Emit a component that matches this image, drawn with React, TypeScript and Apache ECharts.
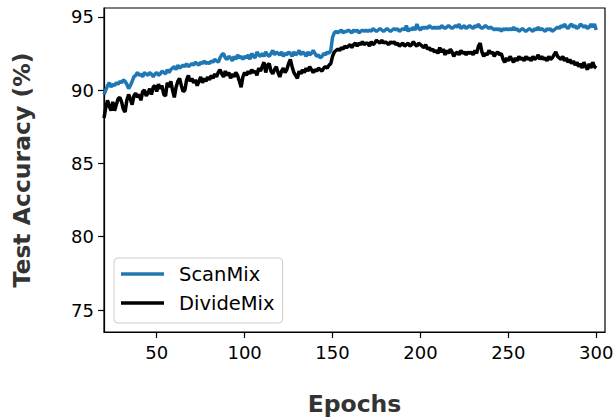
import React, { useEffect, useRef } from "react";
import * as echarts from "echarts";

const START_EPOCH = 20;
const xTicks = [50, 100, 150, 200, 250, 300];
const yTicks = [75, 80, 85, 90, 95];

// ScanMix test accuracy, epochs 20..300
const scanMix = [
  89.7, 90.0, 90.3, 90.5, 90.2, 90.4, 90.3, 90.5, 90.4, 90.6,
  90.5, 90.7, 90.6, 90.4, 90.1, 90.3, 90.6, 90.9, 91.0, 91.2,
  91.0, 91.1, 90.9, 91.2, 91.1, 91.0, 91.2, 91.1, 90.9, 91.1,
  91.2, 91.0, 91.1, 91.3, 91.2, 91.1, 91.4, 91.2, 91.4, 91.5,
  91.6, 91.4, 91.7, 91.5, 91.6, 91.7, 91.6, 91.8, 91.6, 91.7,
  91.8, 91.7, 91.9, 91.8, 91.7, 91.9, 91.8, 92.0, 91.8, 91.9,
  91.8, 92.0, 91.9, 92.1, 92.0, 91.9, 92.2, 92.4, 92.5, 92.2,
  92.1, 92.3, 92.2, 92.0, 92.3, 92.1, 92.4, 92.2, 92.3, 92.1,
  92.3, 92.2, 92.4, 92.1, 92.5, 92.3, 92.2, 92.6, 92.4, 92.3,
  92.5, 92.3, 92.6, 92.4, 92.3, 92.5, 92.7, 92.4, 92.6, 92.5,
  92.4, 92.6, 92.3, 92.5, 92.4, 92.6, 92.5, 92.3, 92.6, 92.4,
  92.5, 92.7, 92.4, 92.6, 92.5, 92.3, 92.6, 92.4, 92.5, 92.7,
  92.5, 92.3, 92.4, 92.2, 92.3, 92.5, 92.4, 92.6, 92.5, 92.7,
  93.6, 93.9, 94.0, 93.9, 94.0, 94.1, 93.9, 94.0, 94.0, 94.1,
  94.0, 93.9, 94.1, 94.0, 94.1, 93.9, 94.0, 94.1, 94.0, 94.1,
  94.0, 94.1, 94.0, 94.2, 94.1, 94.0, 94.1, 94.2, 94.1, 94.0,
  94.1, 94.2, 94.1, 94.0, 94.1, 94.2, 94.1, 94.2, 94.0, 94.1,
  94.2, 94.1, 94.4, 94.0, 94.2, 94.1, 94.3, 94.1, 94.5, 94.2,
  94.1, 94.3, 94.2, 94.3, 94.2, 94.4, 94.3, 94.2, 94.3, 94.2,
  94.3, 94.2, 94.4, 94.3, 94.2, 94.3, 94.4, 94.3, 94.2, 94.3,
  94.4, 94.3, 94.5, 94.2, 94.3, 94.4, 94.2, 94.3, 94.4, 94.3,
  94.2, 94.4, 94.3, 94.5, 94.3, 94.2, 94.3, 94.4, 94.3, 94.2,
  94.3, 94.2, 94.1, 94.2, 94.1, 94.2, 94.0, 94.2, 94.1, 94.2,
  94.1, 94.2, 94.1, 94.3, 94.1, 94.2, 94.0, 94.1, 94.2, 94.1,
  94.0, 94.1, 94.2, 94.1, 94.0, 94.2, 94.1, 94.3, 94.1, 94.2,
  94.1, 94.0, 94.2, 94.1, 94.2, 94.0, 94.1, 94.2, 94.3, 94.2,
  94.4, 94.3, 94.5, 94.3, 94.2, 94.4, 94.5, 94.3, 94.4, 94.2,
  94.3, 94.5, 94.4, 94.3, 94.4, 94.2, 94.3, 94.5, 94.3, 94.5,
  94.1,
];

// DivideMix test accuracy, epochs 20..300
const divideMix = [
  88.1, 88.8, 89.3, 88.9, 88.6, 89.2, 88.6, 89.0, 89.4, 89.5,
  89.2, 88.7, 88.5, 89.3, 89.7, 89.4, 89.0, 89.6, 89.8, 89.5,
  89.7, 89.3, 89.9, 90.0, 89.6, 89.8, 90.1, 89.7, 90.2, 90.3,
  89.9, 90.4, 90.1, 90.3, 89.7, 89.6, 90.5, 90.2, 90.6, 90.0,
  89.5, 90.2, 90.6, 90.8, 90.3, 89.9, 90.0, 90.7, 91.0, 90.6,
  90.8, 90.5, 90.7, 90.3, 90.6, 90.9, 90.5, 90.8, 90.6, 90.9,
  90.7, 91.0, 90.8, 91.1, 90.9, 91.2, 91.4, 91.1, 90.9, 91.3,
  91.0, 91.2, 90.8, 91.1, 90.9, 91.2, 91.0, 90.6, 90.2, 90.9,
  91.2, 91.0, 91.3, 91.1, 91.4, 91.2, 91.3, 91.0, 91.5, 91.3,
  91.6, 91.9, 91.2, 91.7, 91.8, 91.3, 91.1, 91.4, 91.6, 91.2,
  90.9, 91.3, 91.5, 91.2, 91.4, 91.8, 92.1, 91.6, 91.2, 91.0,
  90.8, 91.3, 91.1, 91.4, 91.2, 91.5, 91.3, 91.6, 91.4, 91.2,
  91.4, 91.3, 91.5, 91.4, 91.3, 91.5, 91.6, 91.5, 91.7, 91.8,
  92.3, 92.6, 92.7, 92.8, 92.7, 92.9, 92.8, 93.0, 92.9, 93.0,
  93.1, 92.9, 93.1, 93.2, 93.0, 93.2, 93.1, 93.3, 93.1, 93.2,
  93.2, 93.0, 93.3, 93.1, 93.2, 93.4, 93.3, 93.2, 93.4, 93.2,
  93.3, 93.2, 93.1, 93.3, 93.2, 93.3, 93.1, 93.2, 93.0, 93.1,
  93.2, 93.0, 93.1, 93.2, 93.0, 93.1, 93.3, 93.1, 93.0, 93.2,
  93.1, 93.0, 92.9, 93.1, 92.8, 92.9, 92.7, 92.8, 92.6, 92.7,
  92.5, 92.9, 92.6, 92.8, 92.4, 92.7, 92.5, 92.8, 92.6, 92.3,
  92.5, 92.6, 92.4, 92.7, 92.5, 92.6, 92.4, 92.6, 92.5, 92.6,
  92.4, 92.7, 92.5, 93.0, 93.2, 92.6, 92.3, 92.5, 92.4, 92.7,
  92.5, 92.6, 92.3, 92.5, 92.6, 92.4, 92.5, 92.1, 91.9, 92.2,
  92.0, 92.3, 92.1, 91.9, 92.2, 92.0, 92.3, 92.1, 92.2, 92.0,
  92.3, 92.1, 92.2, 92.0, 92.3, 92.1, 92.2, 92.4, 92.1, 92.3,
  92.1, 92.2, 92.0, 92.3, 92.1, 92.2, 92.4, 92.6, 92.3, 92.2,
  92.1, 92.3, 92.0, 92.2, 91.9, 92.1, 91.8, 92.0, 91.7, 91.9,
  91.6, 91.8, 91.5, 91.9, 91.6, 91.4, 91.8, 91.5, 91.9, 91.6,
  91.5,
];

const toPairs = (vals: number[]) => vals.map((v, i) => [START_EPOCH + i, v]);

export default function App() {
  const ref = useRef<HTMLDivElement>(null);
  useEffect(() => {
    if (!ref.current) return;
    const chart = echarts.init(ref.current, null, { renderer: "svg" });
    const font = "DejaVu Sans";
    chart.setOption({
      animation: false,
      backgroundColor: "#ffffff",
      grid: {
        left: 104,
        top: 8,
        right: 9,
        bottom: 86,
        containLabel: false,
        outerBoundsMode: "none",
        show: true,
        borderColor: "#000",
        borderWidth: 1.2,
        backgroundColor: "transparent",
      },
      legend: {
        orient: "vertical",
        left: 114,
        top: 258,
        icon: "rect",
        itemWidth: 43,
        itemHeight: 3.5,
        itemGap: 7,
        padding: [5, 8, 9, 7],
        backgroundColor: "rgba(255,255,255,0.8)",
        borderColor: "#cccccc",
        borderWidth: 1,
        borderRadius: 4,
        textStyle: {
          fontFamily: font,
          fontSize: 19.5,
          color: "#000",
          lineHeight: 22,
          padding: [0, 0, 0, 10],
        },
        data: ["ScanMix", "DivideMix"],
      },
      xAxis: {
        type: "value",
        min: 20,
        max: 305,
        name: "Epochs",
        nameLocation: "middle",
        nameGap: 60,
        nameTextStyle: { fontFamily: font, fontSize: 23.5, lineHeight: 24, fontWeight: "bold", color: "#333" },
        axisLine: { show: true, lineStyle: { color: "#000", width: 1.2 } },
        axisTick: { show: true, length: 6, lineStyle: { color: "#000", width: 1.2 }, customValues: xTicks },
        axisLabel: { fontFamily: font, fontSize: 18, color: "#000", margin: 11, customValues: xTicks },
        splitLine: { show: false },
      },
      yAxis: {
        type: "value",
        min: 73.5,
        max: 95.6,
        name: "Test Accuracy (%)",
        nameLocation: "middle",
        nameGap: 70,
        nameTextStyle: { fontFamily: font, fontSize: 23.5, lineHeight: 24, fontWeight: "bold", color: "#333" },
        axisLine: { show: true, lineStyle: { color: "#000", width: 1.2 } },
        axisTick: { show: true, length: 6, lineStyle: { color: "#000", width: 1.2 }, customValues: yTicks },
        axisLabel: { fontFamily: font, fontSize: 18, color: "#000", margin: 10, customValues: yTicks },
        splitLine: { show: false },
      },
      series: [
        {
          name: "ScanMix",
          type: "line",
          data: toPairs(scanMix),
          showSymbol: false,
          symbol: "none",
          lineStyle: { color: "#1f77b4", width: 3.5 },
          itemStyle: { color: "#1f77b4" },
          z: 3,
        },
        {
          name: "DivideMix",
          type: "line",
          data: toPairs(divideMix),
          showSymbol: false,
          symbol: "none",
          lineStyle: { color: "#000000", width: 3.5 },
          itemStyle: { color: "#000000" },
          z: 2,
        },
      ],
    });
    return () => chart.dispose();
  }, []);
  return (
    <div
      ref={ref}
      style={{ position: "absolute", left: 0, top: 0, width: 614, height: 418 }}
    />
  );
}
